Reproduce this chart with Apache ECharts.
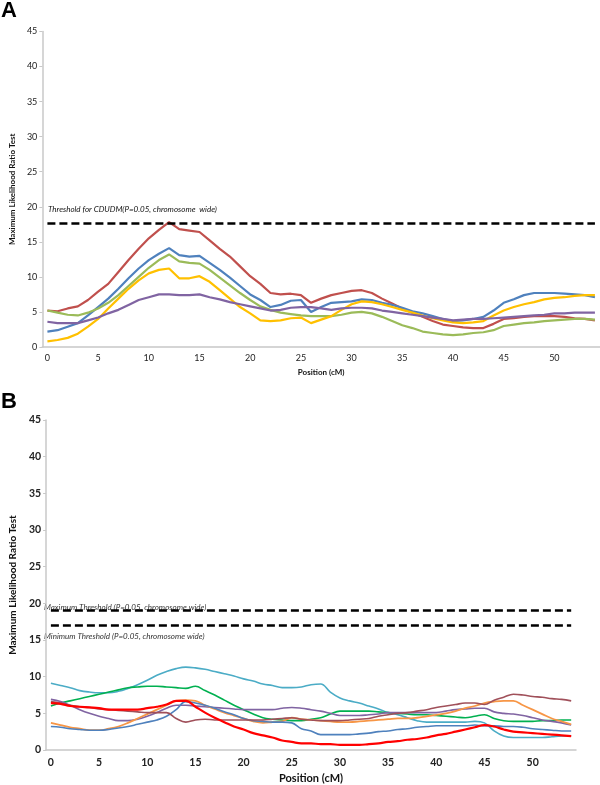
<!DOCTYPE html>
<html><head><meta charset="utf-8">
<script src="https://cdn.jsdelivr.net/npm/echarts@6/dist/echarts.min.js"></script>
<style>html,body{margin:0;padding:0;background:#fff}#c{width:600px;height:785px}</style>
</head><body><div id="c"></div>
<script>
// ---------- data ----------
const positions = Array.from({length:55},(_,i)=>String(i)); // 0..54 cM category labels
const yTicksMax = 45;

// Panel A series
const aRed    = [5.2,5.1,5.5,5.8,6.7,7.9,9.0,10.7,12.4,14.0,15.5,16.7,17.8,16.8,16.6,16.4,15.2,14.0,12.9,11.5,10.1,9.0,7.7,7.5,7.6,7.4,6.3,6.9,7.4,7.7,8.0,8.1,7.7,6.9,6.2,5.5,4.9,4.3,3.7,3.2,3.0,2.8,2.7,2.7,3.3,4.0,4.1,4.3,4.4,4.4,4.4,4.3,4.1,4.0,3.8];
const aBlue   = [2.2,2.4,2.9,3.4,4.5,5.7,6.9,8.3,9.8,11.2,12.4,13.3,14.1,13.1,12.9,13.0,12.0,11.0,9.9,8.7,7.5,6.7,5.7,6.0,6.6,6.7,5.0,5.7,6.3,6.4,6.5,6.8,6.7,6.3,6.0,5.6,5.1,4.8,4.4,4.0,3.7,3.8,4.0,4.3,5.2,6.3,6.8,7.4,7.7,7.7,7.7,7.6,7.5,7.4,7.1];
const aGreen  = [5.2,4.9,4.6,4.5,4.9,5.5,6.3,7.4,8.7,10.0,11.3,12.4,13.2,12.2,12.0,11.9,11.0,9.9,8.8,7.7,6.7,5.8,5.3,4.9,4.7,4.5,4.4,4.4,4.4,4.6,4.9,5.0,4.8,4.3,3.7,3.1,2.7,2.2,2.0,1.8,1.7,1.8,2.0,2.1,2.4,3.0,3.2,3.4,3.5,3.7,3.8,3.9,4.0,4.0,3.9];
const aYellow = [0.8,1.0,1.3,1.9,2.9,4.0,5.5,6.9,8.3,9.5,10.5,11.0,11.2,9.8,9.8,10.1,9.3,8.1,6.9,5.7,4.8,3.8,3.7,3.8,4.1,4.2,3.4,3.9,4.4,5.3,6.1,6.5,6.4,6.1,5.7,5.3,4.9,4.5,4.1,3.8,3.5,3.4,3.5,3.7,4.5,5.2,5.7,6.1,6.4,6.8,7.0,7.1,7.3,7.4,7.4];
const aPurple = [3.6,3.4,3.4,3.4,3.8,4.2,4.8,5.3,6.0,6.7,7.1,7.5,7.5,7.4,7.4,7.5,7.1,6.8,6.4,6.1,5.8,5.5,5.2,5.3,5.6,5.7,5.7,5.5,5.3,5.5,5.6,5.6,5.5,5.2,5.0,4.8,4.6,4.4,4.2,4.0,3.8,3.9,4.0,4.0,4.1,4.2,4.3,4.4,4.5,4.6,4.8,4.8,4.9,4.9,4.9];
const aThreshold = 17.7;

// Panel B series
const bTeal   = [9.1,8.8,8.5,8.1,7.9,7.8,7.8,8.0,8.4,8.9,9.5,10.2,10.7,11.1,11.3,11.2,11.0,10.7,10.4,10.1,9.7,9.4,9.0,8.8,8.5,8.5,8.6,8.9,9.0,7.9,7.1,6.7,6.4,6.0,5.6,5.1,4.8,4.4,4.0,3.8,3.8,3.8,3.8,3.8,3.9,3.7,2.6,1.9,1.7,1.7,1.7,1.7,1.8,1.9,1.9];
const bGreen  = [6.0,6.4,6.7,7.0,7.3,7.6,7.9,8.2,8.5,8.6,8.7,8.7,8.6,8.5,8.4,8.7,8.1,7.5,6.8,6.1,5.5,4.9,4.4,4.2,4.1,4.0,4.0,4.2,4.4,4.9,5.3,5.3,5.3,5.3,5.2,5.1,5.0,4.9,4.8,4.8,4.7,4.6,4.5,4.4,4.6,4.8,4.3,4.0,3.9,3.9,3.9,4.0,4.0,4.1,4.1];
const bRed    = [6.4,6.3,6.0,5.9,5.8,5.7,5.5,5.5,5.5,5.5,5.7,5.9,6.2,6.7,6.7,5.9,5.1,4.4,3.8,3.2,2.8,2.3,2.0,1.7,1.3,1.1,0.9,0.9,0.8,0.8,0.7,0.7,0.7,0.8,0.9,1.1,1.2,1.4,1.5,1.7,2.0,2.2,2.5,2.8,3.1,3.4,3.2,2.8,2.5,2.4,2.3,2.2,2.1,2.0,1.9];
const bPurple = [6.9,6.6,6.1,5.5,5.0,4.6,4.3,4.0,4.0,4.2,4.6,5.1,5.7,6.1,6.1,6.0,5.9,5.8,5.7,5.6,5.5,5.5,5.5,5.5,5.7,5.8,5.7,5.5,5.3,5.0,4.7,4.7,4.7,4.8,4.9,5.1,5.1,5.1,5.1,5.1,5.1,5.3,5.5,5.6,5.7,5.7,5.2,5.0,4.9,4.7,4.4,4.1,3.9,3.7,3.4];
const bOrange = [3.7,3.4,3.1,2.9,2.7,2.7,2.9,3.2,3.7,4.3,4.9,5.5,6.1,6.7,6.8,6.7,6.1,5.6,5.1,4.7,4.3,3.9,3.7,3.8,3.9,4.4,4.2,4.1,4.0,3.9,3.8,3.8,3.9,4.0,4.1,4.2,4.3,4.3,4.4,4.6,4.8,5.0,5.3,5.7,6.0,6.4,6.6,6.7,6.7,6.1,5.5,4.9,4.3,3.9,3.5];
const bBlue   = [3.2,3.1,2.9,2.8,2.7,2.7,2.8,3.0,3.2,3.5,3.8,4.1,4.6,5.5,6.6,6.4,6.1,5.7,5.2,4.8,4.3,4.0,3.9,3.8,3.8,3.7,2.9,2.6,2.1,2.1,2.1,2.1,2.2,2.3,2.5,2.6,2.8,2.9,3.1,3.2,3.3,3.3,3.3,3.3,3.4,3.3,3.3,3.2,3.2,3.1,2.9,2.8,2.7,2.6,2.6];
const bMaroon = [6.6,6.4,6.1,5.9,5.8,5.6,5.5,5.4,5.3,5.2,5.1,5.1,5.1,4.3,3.8,4.1,4.2,4.1,4.1,4.1,4.1,4.1,4.1,4.2,4.3,4.4,4.2,4.1,4.0,4.0,4.0,4.1,4.2,4.3,4.6,4.8,5.0,5.1,5.3,5.5,5.8,6.0,6.2,6.4,6.4,6.2,6.8,7.2,7.6,7.5,7.3,7.2,7.0,6.9,6.7];
const bMaxThreshold = 19.0;
const bMinThreshold = 17.0;

const thresholdAText = 'Threshold for CDUDM(P=0.05, chromosome  wide)';
const bMaxText = 'Maximum Threshold (P=0.05, chromosome wide)';
const bMinText = 'Minimum Threshold (P=0.05, chromosome wide)';
const yTitle = 'Maximum Likelihood Ratio Test';
const xTitle = 'Position (cM)';

// ---------- chart ----------
const FONT = 'Lato, "Open Sans", sans-serif';
const chart = echarts.init(document.getElementById('c'), null, {renderer:'canvas'});

function xAxis(gi, fs, bold, nameFs, gap, lblMargin){
  return {type:'category', gridIndex:gi, data:positions, boundaryGap:true,
    axisLine:{lineStyle:{color:'#c8c8c8', width:1.5}},
    axisTick:{show:false},
    axisLabel:{interval:4, color:'#222', fontSize:fs, fontFamily:FONT, fontWeight:bold?'bold':'normal', margin:lblMargin},
    name:xTitle, nameLocation:'middle', nameGap:gap,
    nameTextStyle:{fontSize:nameFs, fontWeight:'bold', color:'#111', fontFamily:FONT}};
}
function yAxis(gi, fs, bold, nameFs, gap){
  return {type:'value', gridIndex:gi, min:0, max:yTicksMax, interval:5,
    axisLine:{show:true, lineStyle:{color:'#c8c8c8', width:1.5}},
    axisTick:{show:true, length:3, lineStyle:{color:'#c8c8c8'}},
    splitLine:{show:false},
    axisLabel:{color:'#222', fontSize:fs, fontFamily:FONT, fontWeight:bold?'bold':'normal', margin:5},
    name:yTitle, nameLocation:'middle', nameGap:gap, nameRotate:90,
    nameTextStyle:{fontSize:nameFs, fontWeight:'bold', color:'#111', fontFamily:FONT}};
}
function line(name, data, color, xi, width, smooth, extra){
  return Object.assign({name, type:'line', xAxisIndex:xi, yAxisIndex:xi, data,
    symbol:'none', smooth:smooth, lineStyle:{color, width}, itemStyle:{color}, z:3}, extra||{});
}
function thrLine(value){
  return {silent:true, symbol:'none', label:{show:false},
    lineStyle:{color:'#000', type:[8,4], width:2.5},
    data:[[{coord:['0', value]},{coord:['54', value]}]]};
}

chart.setOption({
  animation:false,
  backgroundColor:'#fff',
  grid:[
    {left:39, top:31.5, width:561, height:315.5},
    {left:37.6, top:420, width:538.4, height:335.7}
  ],
  xAxis:[xAxis(0, 9, false, 8, 21, 7), xAxis(1, 10.5, true, 11, 23, 7)],
  yAxis:[yAxis(0, 9, false, 8, 16), yAxis(1, 10.5, true, 10, 25)],
  series:[
    line('A red', aRed, '#C0504D', 0, 2.2, false, {markLine:thrLine(aThreshold)}),
    line('A blue', aBlue, '#4F81BD', 0, 2.2, false),
    line('A green', aGreen, '#9BBB59', 0, 2.2, false),
    line('A yellow', aYellow, '#FFC000', 0, 2.2, false),
    line('A purple', aPurple, '#8064A2', 0, 2.2, false),
    line('B teal', bTeal, '#4BACC6', 1, 1.6, 0.4, {markLine:thrLine(bMaxThreshold)}),
    line('B green', bGreen, '#00B050', 1, 1.6, 0.4, {markLine:thrLine(bMinThreshold)}),
    line('B purple', bPurple, '#8064A2', 1, 1.6, 0.4),
    line('B orange', bOrange, '#F79646', 1, 1.8, 0.4),
    line('B blue', bBlue, '#4F81BD', 1, 1.6, 0.4),
    line('B maroon', bMaroon, '#A0505A', 1, 1.6, 0.4),
    line('B red', bRed, '#FF0000', 1, 2.2, 0.4)
  ],
  graphic:[
    {type:'text', left:1, top:0, style:{text:'A', font:'bold 22px Arial, "Liberation Sans", sans-serif', fill:'#000'}},
    {type:'text', left:1, top:391, style:{text:'B', font:'bold 22px Arial, "Liberation Sans", sans-serif', fill:'#000'}},
    {type:'text', left:48, top:205, style:{text:thresholdAText, font:'italic 8px '+FONT, fill:'#111'}},
    {type:'text', left:44, top:603, style:{text:bMaxText, font:'italic 8px '+FONT, fill:'#333'}},
    {type:'text', left:44, top:632, style:{text:bMinText, font:'italic 8px '+FONT, fill:'#333'}}
  ]
});
</script></body></html>
